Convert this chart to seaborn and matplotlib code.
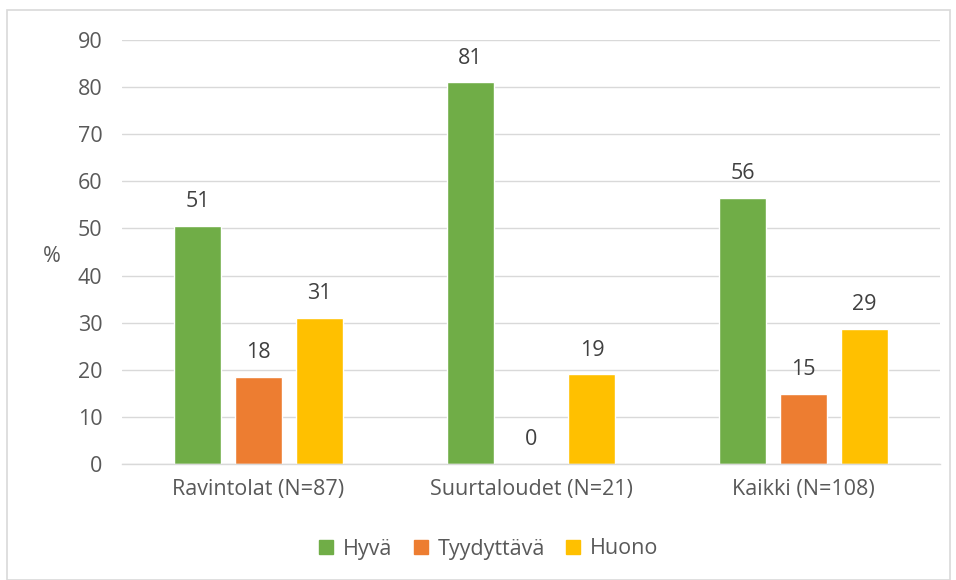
import matplotlib
matplotlib.use("Agg")
import matplotlib.pyplot as plt
import seaborn as sns
import pandas as pd
from matplotlib.patches import Rectangle
from matplotlib.lines import Line2D

categories = ["Ravintolat (N=87)", "Suurtaloudet (N=21)", "Kaikki (N=108)"]
series_names = ["Hyvä", "Tyydyttävä", "Huono"]
hyva = [50.6, 81.0, 56.4]
tyydyttava = [18.4, 0.0, 14.8]
huono = [31.0, 19.0, 28.7]
colors = ["#70AD47", "#ED7D31", "#FFC000"]

rows = []
for name, vals in zip(series_names, [hyva, tyydyttava, huono]):
    for c, v in zip(categories, vals):
        rows.append({"cat": c, "series": name, "value": v})
df = pd.DataFrame(rows)

sns.set_style("white")
plt.rcParams["font.family"] = ["Open Sans", "DejaVu Sans"]
text_color = "#595959"
fs = 15.5

fig = plt.figure(figsize=(9.56, 5.80), dpi=100)
ax = fig.add_axes([122/956, 1-464/580, (940-122)/956, (464-40)/580])

sns.barplot(data=df, x="cat", y="value", hue="series", order=categories,
            hue_order=series_names, palette=colors, width=0.67, gap=0.225,
            ax=ax, legend=False, saturation=1)

ax.set_ylim(0, 90)
ax.set_xlim(-0.5, 2.5)
ax.set_yticks(range(0, 91, 10))
ax.yaxis.grid(True, color="#D9D9D9", linewidth=1)
ax.set_axisbelow(True)
for s in ["top", "right", "left"]:
    ax.spines[s].set_visible(False)
ax.spines["bottom"].set_color("#D9D9D9")
ax.spines["bottom"].set_linewidth(1)
ax.tick_params(axis="both", length=0, colors=text_color, labelsize=fs)
ax.tick_params(axis="y", pad=14)
ax.tick_params(axis="x", pad=11)
ax.set_xlabel("")
ax.set_ylabel("%", rotation=0, color=text_color, fontsize=fs)
ax.yaxis.set_label_coords(-0.086, 0.465)

for cont in ax.containers:
    ax.bar_label(cont, labels=[f"{v:.0f}" for v in cont.datavalues],
                 padding=10, color="#404040", fontsize=fs)

handles = [Line2D([0], [0], marker="s", linestyle="none", markersize=10,
                  markerfacecolor=c, markeredgecolor=c) for c in colors]
fig.legend(handles, series_names, loc="center", bbox_to_anchor=(488/956, 1-549/580),
           ncol=3, frameon=False, fontsize=fs, labelcolor=text_color,
           handlelength=0.8, handletextpad=0.4, columnspacing=0.9)

fig.patches.append(Rectangle((7/956, 0.0), (950-7)/956, 1-10/580,
                             transform=fig.transFigure, fill=False,
                             edgecolor="#D9D9D9", linewidth=1.2))

fig.savefig("out.png", dpi=100, facecolor="white")
